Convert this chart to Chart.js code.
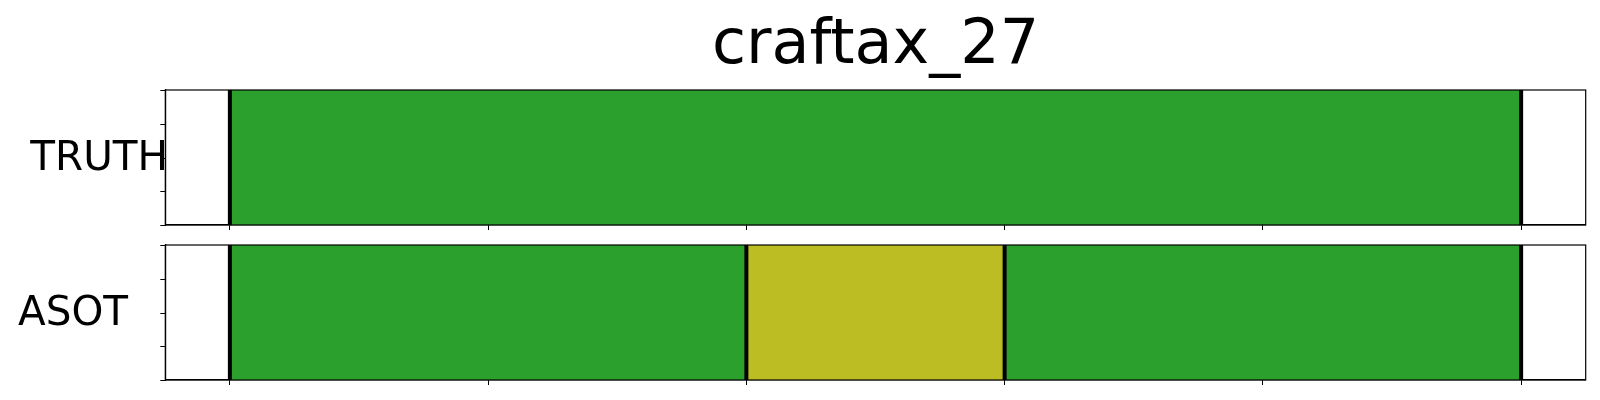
<!DOCTYPE html>
<html>
<head>
<meta charset="utf-8">
<script src="https://cdn.jsdelivr.net/npm/chart.js@4/dist/chart.umd.min.js"></script>
<style>
  html, body { margin: 0; padding: 0; background: #fff; }
  #wrap { position: relative; width: 1600px; height: 400px; }
  #wrap div { position: absolute; left: 0; width: 1600px; }
</style>
</head>
<body>
<div id="wrap">
  <div style="top:0;height:240px"><canvas id="truth"></canvas></div>
  <div style="top:240px;height:160px"><canvas id="asot"></canvas></div>
</div>
<script>
// segment data (frame indices) and action ids
const title = 'craftax_27';
const truthStarts = [0];
const truthEnds = [100];
const truthActions = [2];
const asotStarts = [0, 40, 60];
const asotEnds = [40, 60, 100];
const asotActions = [2, 8, 2];
const xTicks = [0, 20, 40, 60, 80, 100];
const yTicks = [0, 0.25, 0.5, 0.75, 1];

// matplotlib tab10
const tab10 = ['#1f77b4', '#ff7f0e', '#2ca02c', '#d62728', '#9467bd',
               '#8c564b', '#e377c2', '#7f7f7f', '#bcbd22', '#17becf'];
const FONT = "'DejaVu Sans', sans-serif";

// boundaries + frame + y tick marks + label text
const segPlugin = {
  id: 'segPlugin',
  afterDatasetsDraw(chart, args, opts) {
    const ctx = chart.ctx, a = chart.chartArea, x = chart.scales.x;
    ctx.save();
    ctx.strokeStyle = '#000';
    ctx.lineWidth = 4;
    opts.bounds.forEach(b => {
      const px = x.getPixelForValue(b);
      ctx.beginPath();
      ctx.moveTo(px, a.top);
      ctx.lineTo(px, a.bottom);
      ctx.stroke();
    });
    ctx.restore();
  },
  afterDraw(chart, args, opts) {
    const ctx = chart.ctx, a = chart.chartArea;
    ctx.save();
    ctx.strokeStyle = '#000';
    ctx.lineWidth = 1.2;
    ctx.strokeRect(a.left, a.top, a.right - a.left, a.bottom - a.top);
    // y axis carries no values, only evenly spaced tick marks
    ctx.lineWidth = 1;
    yTicks.forEach(v => {
      const py = Math.round(a.bottom - v * (a.bottom - a.top)) + 0.5;
      ctx.beginPath();
      ctx.moveTo(a.left - 5, py);
      ctx.lineTo(a.left, py);
      ctx.stroke();
    });
    ctx.fillStyle = '#000';
    ctx.textBaseline = 'alphabetic';
    ctx.font = '40.5px ' + FONT;
    ctx.textAlign = 'right';
    ctx.fillText(opts.label, opts.labelX, a.top + (a.bottom - a.top) / 2 + 12);
    if (opts.title) {
      ctx.font = '62px ' + FONT;
      ctx.textAlign = 'center';
      ctx.fillText(opts.title, (a.left + a.right) / 2, 63);
    }
    ctx.restore();
  }
};

function makeChart(id, label, starts, ends, actions, padTop, xHeight, labelX, withTitle) {
  const bounds = [];
  starts.forEach((s, i) => {
    if (!bounds.includes(s)) bounds.push(s);
    if (!bounds.includes(ends[i])) bounds.push(ends[i]);
  });
  return new Chart(document.getElementById(id), {
    type: 'bar',
    data: {
      labels: [label],
      datasets: starts.map((s, i) => ({
        data: [[s, ends[i]]],
        backgroundColor: tab10[actions[i]],
        borderWidth: 0,
        categoryPercentage: 1,
        barPercentage: 1,
        grouped: false
      }))
    },
    options: {
      indexAxis: 'y',
      responsive: true,
      maintainAspectRatio: false,
      animation: false,
      layout: { padding: { top: padTop, right: 14.3, left: 0, bottom: 0 } },
      plugins: {
        legend: { display: false },
        tooltip: { enabled: false },
        segPlugin: { bounds: bounds, label: label, labelX: labelX, title: withTitle ? title : null }
      },
      scales: {
        x: {
          type: 'linear',
          min: -5,
          max: 105,
          afterBuildTicks: s => { s.ticks = xTicks.map(v => ({ value: v })); },
          ticks: { display: false },
          grid: { drawOnChartArea: false, drawTicks: true, tickLength: 5, color: '#000', lineWidth: 1 },
          border: { display: true, color: '#000', width: 1.2 },
          afterFit: s => { s.height = xHeight; }
        },
        y: {
          position: 'left',
          ticks: { display: false },
          grid: { display: false },
          border: { display: true, color: '#000', width: 1.2 },
          afterFit: s => { s.width = 165.3; }
        }
      }
    },
    plugins: [segPlugin]
  });
}

makeChart('truth', 'TRUTH', truthStarts, truthEnds, truthActions, 90, 15, 168, true);
makeChart('asot', 'ASOT', asotStarts, asotEnds, asotActions, 5, 20, 128, false);
</script>
</body>
</html>
